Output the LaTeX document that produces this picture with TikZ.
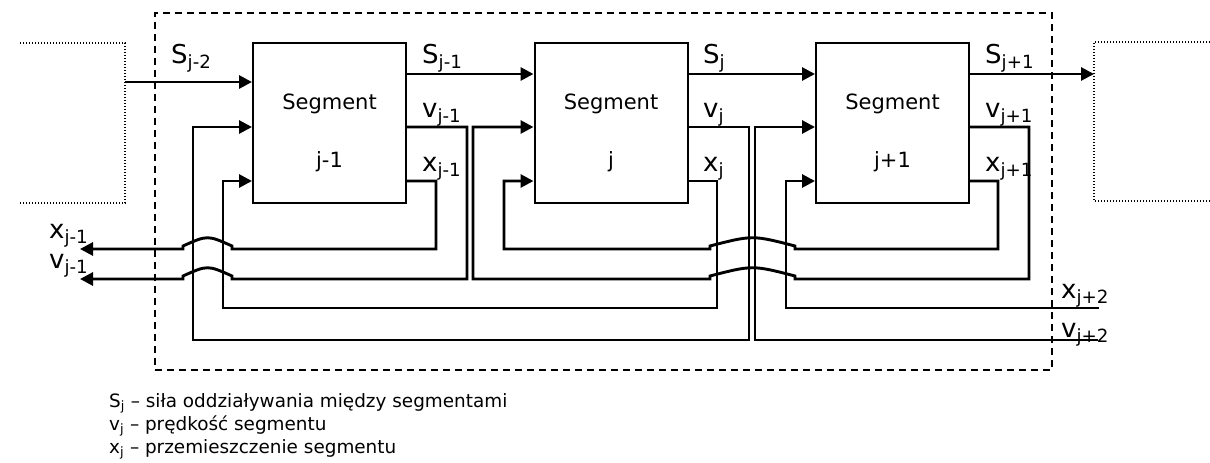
\documentclass[tikz,border=0pt]{standalone}
\usepackage{fontspec}
\setmainfont{DejaVu Sans}
\usetikzlibrary{arrows.meta, calc}
\tikzset{
  segbox/.style={draw, line width=2pt, minimum width=153pt, minimum height=160pt, inner sep=0pt},
  segtext/.style={font=\fontsize{21}{25}\selectfont, align=center, inner sep=0pt},
  wire/.style={line width=2.9pt},
  arrow/.style={wire, -{Triangle[length=13pt, width=13pt]}},
  frame/.style={draw, line width=2pt, dash pattern=on 7pt off 5pt, inner sep=0pt},
  neighbour/.style={line width=1.5pt, dash pattern=on 1.3pt off 1.7pt},
  lbl/.style={font=\fontsize{26}{30}\selectfont, anchor=base west, inner sep=0pt},
  note/.style={font=\fontsize{18.4}{21}\selectfont, anchor=base west, inner sep=0pt},
  hop/.style={to path={-- ++(0,-3) .. controls ($(\tikztostart)!0.5!(\tikztotarget)+(0,-14)$) .. ($(\tikztotarget)+(0,-3)$) -- (\tikztotarget)}},
}
\begin{document}
\begin{tikzpicture}[x=1pt, y=-1pt]
  \useasboundingbox (0,0) rectangle (1210,463);
  % frame and neighbouring blocks
  \node[frame, minimum width=897pt, minimum height=357pt] (stage) at (603.5,191.5) {};
  \draw[neighbour] (20,43) -| (125,203) -- (20,203);
  \draw[neighbour] (1210,42) -| (1094,201) -- (1210,201);
  \coordinate (prev) at (125,82);
  \coordinate (next) at (1094,74);
  \coordinate (xout) at (80,249);
  \coordinate (vout) at (80,279);
  \coordinate (xnext) at (1099,308);
  \coordinate (vnext) at (1098,340);
  % segments
  \node[segbox, label={[segtext, yshift=-10pt]center:{Segment\\[33pt]j-1}}] (seg1) at (329.5,123) {};
  \node[segbox, label={[segtext, yshift=-10pt]center:{Segment\\[33pt]j}}] (seg2) at (611,123) {};
  \node[segbox, label={[segtext, yshift=-10pt]center:{Segment\\[33pt]j+1}}] (seg3) at (892.5,123) {};
  % forces
  \draw[arrow] (prev) -- (seg1.west |- prev);
  \draw[arrow] (seg1.east |- 0,74) -- (seg2.west |- 0,74);
  \draw[arrow] (seg2.east |- 0,74) -- (seg3.west |- 0,74);
  \draw[arrow] (seg3.east |- next) -- (next);
  % velocities and displacements fed back
  \draw[arrow] (seg2.east |- 0,127) -| (749,340) -| (193,127) -- (seg1.west |- 0,127);
  \draw[arrow] (seg2.east |- 0,181) -| (717,308) -| (223,181) -- (seg1.west |- 0,181);
  \draw[arrow] (seg3.east |- 0,127) -| (1029,279) -- (795,279) to[hop] (710,279) -- (473,279) |- (seg2.west |- 0,127);
  \draw[arrow] (seg3.east |- 0,181) -| (998,249) -- (795,249) to[hop] (710,249) -- (504,249) |- (seg2.west |- 0,181);
  \draw[arrow] (vnext) -| (755,127) -- (seg3.west |- 0,127);
  \draw[arrow] (xnext) -| (786,181) -- (seg3.west |- 0,181);
  \draw[arrow] (seg1.east |- 0,127) -| (467,279) -- (232,279) to[hop] (183,279) -- (vout);
  \draw[arrow] (seg1.east |- 0,181) -| (436,249) -- (232,249) to[hop] (183,249) -- (xout);
  % labels
  \node[lbl] at (171,63) {S\textsubscript{j-2}};
  \node[lbl] at (422,63) {S\textsubscript{j-1}};
  \node[lbl] at (422,117) {v\textsubscript{j-1}};
  \node[lbl] at (422,171) {x\textsubscript{j-1}};
  \node[lbl] at (703,63) {S\textsubscript{j}};
  \node[lbl] at (703,117) {v\textsubscript{j}};
  \node[lbl] at (703,171) {x\textsubscript{j}};
  \node[lbl] at (985,63) {S\textsubscript{j+1}};
  \node[lbl] at (985,117) {v\textsubscript{j+1}};
  \node[lbl] at (985,171) {x\textsubscript{j+1}};
  \node[lbl] at (49,238) {x\textsubscript{j-1}};
  \node[lbl] at (49,268) {v\textsubscript{j-1}};
  \node[lbl] at (1061,298) {x\textsubscript{j+2}};
  \node[lbl] at (1061,337) {v\textsubscript{j+2}};
  % legend
  \node[note] at (109,407) {S\textsubscript{j} – siła oddziaływania między segmentami};
  \node[note] at (109,430) {v\textsubscript{j} – prędkość segmentu};
  \node[note] at (109,453) {x\textsubscript{j} – przemieszczenie segmentu};
\end{tikzpicture}
\end{document}
